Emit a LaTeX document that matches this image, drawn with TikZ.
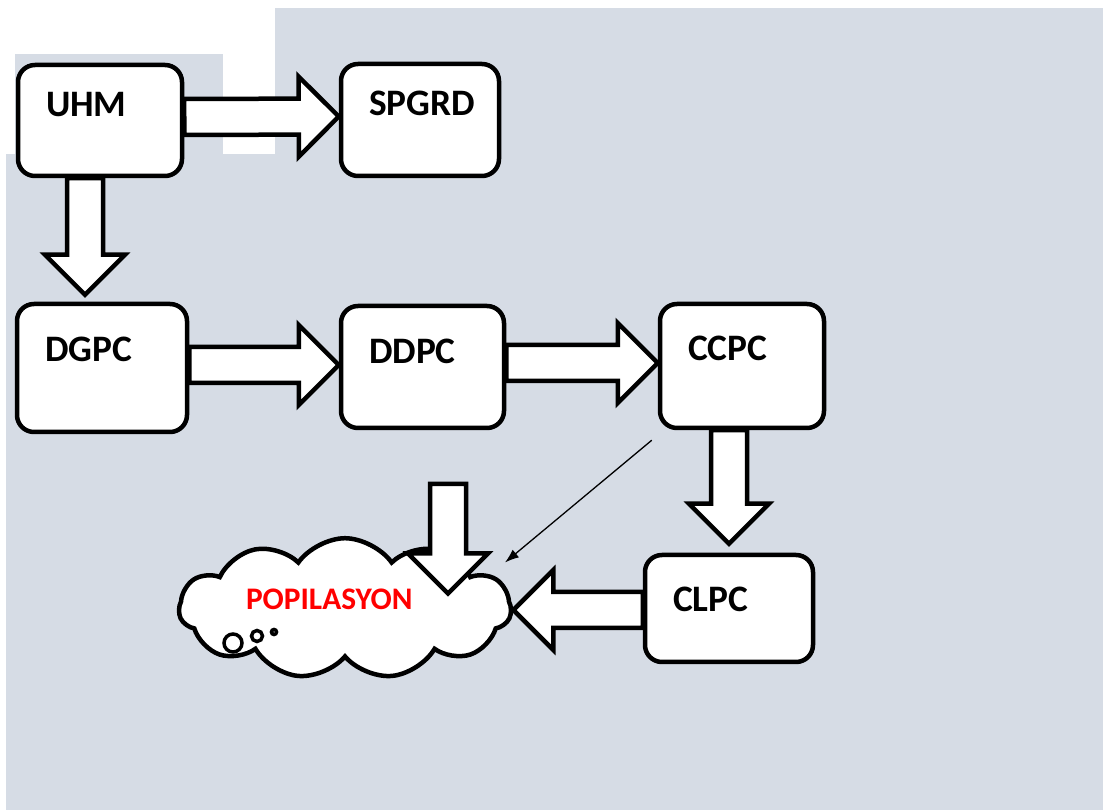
\documentclass[tikz,border=0pt]{standalone}
\usepackage{fontspec}
\setmainfont{Carlito}
\usetikzlibrary{calc,shapes.symbols,arrows.meta}
\definecolor{slatebg}{HTML}{D6DCE5}
\begin{document}
\begin{tikzpicture}[>=Latex,line join=miter,
  box/.style n args={3}{draw=black,line width=4.5bp,fill=white,rounded corners=17bp,
    inner sep=0pt,inner xsep=28bp,align=left,text width=#1bp,text height=#2bp,text depth=#3bp,
    font=\fontsize{37.5}{40}\selectfont\bfseries},
  popcloud/.style={cloud,cloud puffs=11,cloud puff arc=110,aspect=2.7,draw=black,line width=4.5bp,
    fill=white,minimum width=332bp,minimum height=121bp,inner sep=0pt,align=left,
    text width=198bp,text height=23bp,text depth=20bp,text=red,
    font=\fontsize{31.5}{34}\selectfont\bfseries},
  bubble/.style={draw=black,line width=3.5bp,fill=white},
  fat/.style={draw=black,line width=4.5bp,fill=white,line join=miter,
    to path={($(\tikztostart)!18bp!90:(\tikztotarget)$)
      -- ($(\tikztotarget)!40bp!(\tikztostart)!18bp!-90:(\tikztostart)$)
      -- ($(\tikztotarget)!40bp!(\tikztostart)!40bp!-90:(\tikztostart)$)
      -- (\tikztotarget)
      -- ($(\tikztotarget)!40bp!(\tikztostart)!40bp!90:(\tikztostart)$)
      -- ($(\tikztotarget)!40bp!(\tikztostart)!18bp!90:(\tikztostart)$)
      -- ($(\tikztostart)!18bp!-90:(\tikztotarget)$) -- cycle}},
  ]
%%
\useasboundingbox (0bp,0bp) rectangle (1103bp,810bp);
\fill [slatebg] (275bp,0bp) rectangle (1103bp,802bp);
\fill [slatebg] (6bp,0bp) rectangle (275bp,656bp);
\fill [slatebg] (15bp,656bp) rectangle (223bp,756bp);
%
\node (node_cloud) at (345.0bp,201.5bp) [popcloud] {POPILASYON};
  \draw [bubble] ([shift={(-112bp,-34.5bp)}]node_cloud.center) circle (9bp);
  \draw [bubble] ([shift={(-88bp,-27.5bp)}]node_cloud.center) circle (5.5bp);
  \draw [bubble] ([shift={(-71bp,-23.5bp)}]node_cloud.center) circle (2.5bp);
\node (node_uhm) at (100.0bp,689.5bp) [box={108}{51.5}{59.5}] {UHM};
  \node (node_spgrd) at (420.0bp,690.0bp) [box={102}{51.5}{60.5}] {SPGRD};
  \node (node_dgpc) at (102.0bp,442.0bp) [box={114}{57.5}{70.5}] {DGPC};
  \node (node_ddpc) at (422.5bp,443.0bp) [box={107}{57.5}{64.5}] {DDPC};
  \node (node_ccpc) at (742.0bp,444.0bp) [box={108}{56.5}{67.5}] {CCPC};
  \node (node_clpc) at (729.0bp,201.5bp) [box={112}{56.5}{50.5}] {CLPC};
  \coordinate (drop) at (448.0bp,326.0bp);
  \draw [fat] ([yshift=3.5bp]node_uhm.east) to ([yshift=3.5bp]node_spgrd.west);
  \draw [fat] ([xshift=-15bp]node_uhm.south) to ([xshift=-17bp,yshift=7bp]node_dgpc.north);
  \draw [fat] ([yshift=3bp]node_dgpc.east) to ([yshift=2bp]node_ddpc.west);
  \draw [fat] ([yshift=4bp]node_ddpc.east) to ([yshift=3bp]node_ccpc.west);
  \draw [fat] ([xshift=-13bp]node_ccpc.south) to ([yshift=9bp]node_clpc.north);
  \draw [fat] ([yshift=-1.5bp]node_clpc.west) to ([yshift=-1.5bp]node_cloud.east);
  \draw [fat] (drop) to ([xshift=103bp,yshift=15bp]node_cloud.center);
  \draw [black,line width=1.3bp,-{Latex[length=14bp,width=10bp]}] ([xshift=-6bp,yshift=-10bp]node_ccpc.south west) to ([xshift=160bp,yshift=46bp]node_cloud.center);
%
\end{tikzpicture}
\end{document}
